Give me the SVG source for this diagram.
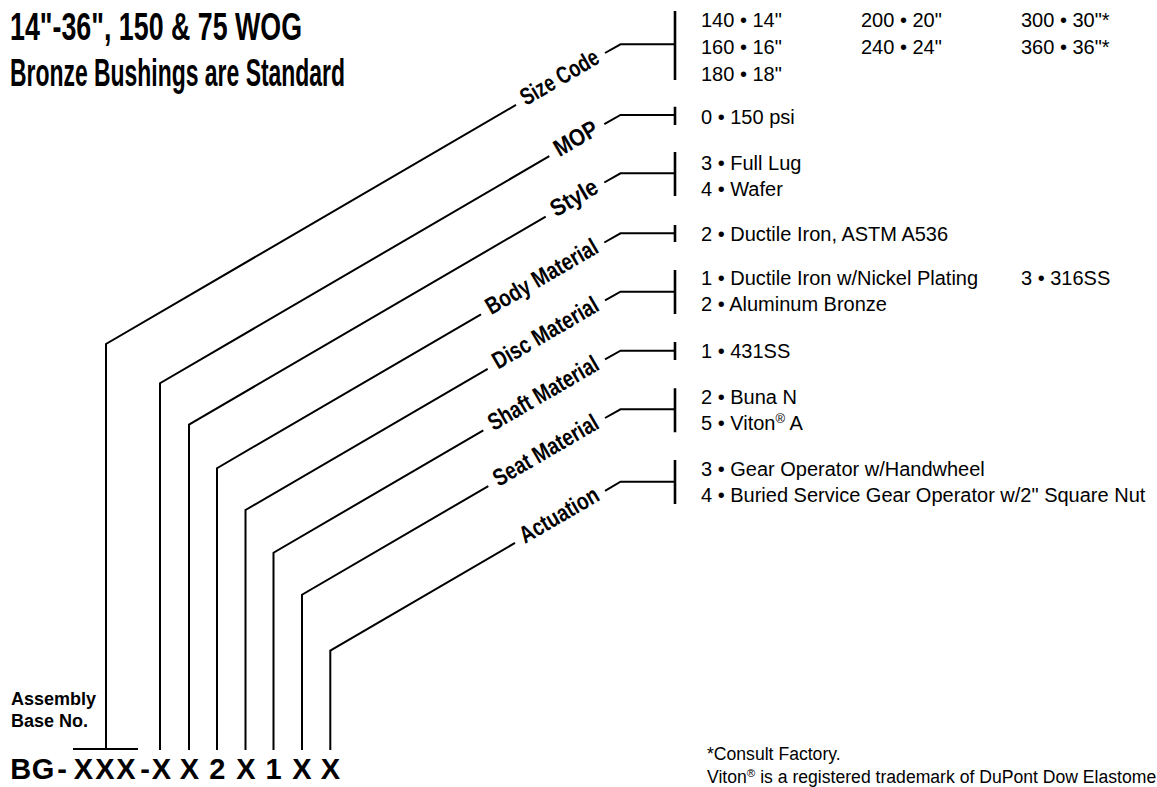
<svg xmlns="http://www.w3.org/2000/svg" width="1157" height="787" viewBox="0 0 1157 787">
<style>
.cond{font-family:"Liberation Sans",Arial,sans-serif;font-weight:bold;fill:#000}
.lbl{font-family:"Liberation Sans",Arial,sans-serif;font-weight:bold;font-size:24px;fill:#000;text-anchor:middle}
.opt{font-family:"Liberation Sans",Arial,sans-serif;font-size:20px;fill:#000}
.foot{font-family:"Liberation Sans",Arial,sans-serif;font-size:17.6px;fill:#000}
.bold{font-family:"Liberation Sans",Arial,sans-serif;font-weight:bold;fill:#000}
.ln{fill:none;stroke:#000;stroke-width:2;stroke-linejoin:miter}
.br{fill:none;stroke:#000;stroke-width:2.6}
</style>
<rect width="1157" height="787" fill="#fff"/>
<g id="title">
<text class="cond" x="10" y="40" font-size="38" textLength="292" lengthAdjust="spacingAndGlyphs">14"-36", 150 &amp; 75 WOG</text>
<text class="cond" x="10" y="86" font-size="38" textLength="335" lengthAdjust="spacingAndGlyphs">Bronze Bushings are Standard</text>
</g>
<g id="connectors">
<path class="ln" d="M106,749 L106,344 L516,104.9 M605,53 L620.5,44.3 L675,44.3"/>
<path class="ln" d="M160,750 L160,383.2 L549.3,156.2 M604.3,124.2 L620.5,115 L675,115"/>
<path class="ln" d="M189,750 L189,424.6 L545.7,216.6 M604.3,182.5 L620.5,173.3 L675,173.3"/>
<path class="ln" d="M217,750 L217,468.2 L481,314.3 M604.3,242.5 L620.5,233.3 L675,233.3"/>
<path class="ln" d="M245.5,750 L245.5,510 L487.7,368.8 M605,300.4 L620.5,291.7 L675,291.7"/>
<path class="ln" d="M273.5,750 L273.5,552.7 L483.3,430.4 M605,359.4 L620.5,350.7 L675,350.7"/>
<path class="ln" d="M302,750 L302,594.7 L488.3,486.1 M605,418 L620.5,409.3 L675,409.3"/>
<path class="ln" d="M330.3,750 L330.3,650.6 L515,542.9 M605,490.8 L620.5,481.7 L675,481.7"/>
<path class="ln" d="M73,749 L138,749"/>
<path class="br" d="M675,11 V80 M675,106.7 V125 M675,152 V196 M675,225 V242 M675,270 V314 M675,342 V360 M675,388.3 V432.3 M675,460 V504"/>
</g>
<g id="size-code">
<text class="lbl" transform="translate(560.5,79) rotate(-30.25)" y="6" textLength="87" lengthAdjust="spacingAndGlyphs">Size Code</text>
<text class="opt" x="701" y="26.5">140 • 14"</text>
<text class="opt" x="701" y="53.5">160 • 16"</text>
<text class="opt" x="701" y="80.5">180 • 18"</text>
<text class="opt" x="861" y="26.5">200 • 20"</text>
<text class="opt" x="861" y="53.5">240 • 24"</text>
<text class="opt" x="1021" y="26.5">300 • 30"*</text>
<text class="opt" x="1021" y="53.5">360 • 36"*</text>
</g>
<g id="mop">
<text class="lbl" transform="translate(576.8,140.2) rotate(-30.25)" y="6" textLength="47" lengthAdjust="spacingAndGlyphs">MOP</text>
<text class="opt" x="701" y="124">0 • 150 psi</text>
</g>
<g id="style">
<text class="lbl" transform="translate(575,199.5) rotate(-30.25)" y="6" textLength="51" lengthAdjust="spacingAndGlyphs">Style</text>
<text class="opt" x="701" y="170">3 • Full Lug</text>
<text class="opt" x="701" y="196">4 • Wafer</text>
</g>
<g id="body-material">
<text class="lbl" transform="translate(542.7,278.4) rotate(-30.25)" y="6" textLength="126" lengthAdjust="spacingAndGlyphs">Body Material</text>
<text class="opt" x="701" y="240.5">2 • Ductile Iron, ASTM A536</text>
</g>
<g id="disc-material">
<text class="lbl" transform="translate(546.3,334.7) rotate(-30.25)" y="6" textLength="119" lengthAdjust="spacingAndGlyphs">Disc Material</text>
<text class="opt" x="701" y="285">1 • Ductile Iron w/Nickel Plating</text>
<text class="opt" x="701" y="311">2 • Aluminum Bronze</text>
<text class="opt" x="1021" y="285">3 • 316SS</text>
</g>
<g id="shaft-material">
<text class="lbl" transform="translate(544.2,394.9) rotate(-30.25)" y="6" textLength="124" lengthAdjust="spacingAndGlyphs">Shaft Material</text>
<text class="opt" x="701" y="358">1 • 431SS</text>
</g>
<g id="seat-material">
<text class="lbl" transform="translate(546.7,452) rotate(-30.25)" y="6" textLength="118" lengthAdjust="spacingAndGlyphs">Seat Material</text>
<text class="opt" x="701" y="404">2 • Buna N</text>
<text class="opt" x="701" y="430">5 • Viton<tspan font-size="13" dy="-7">®</tspan><tspan dy="7"> A</tspan></text>
</g>
<g id="actuation">
<text class="lbl" transform="translate(560,516.7) rotate(-30.25)" y="6" textLength="88" lengthAdjust="spacingAndGlyphs">Actuation</text>
<text class="opt" x="701" y="476">3 • Gear Operator w/Handwheel</text>
<text class="opt" x="701" y="502">4 • Buried Service Gear Operator w/2" Square Nut</text>
</g>
<g id="base">
<text class="bold" x="11" y="705" font-size="18">Assembly</text>
<text class="bold" x="11" y="727.3" font-size="18">Base No.</text>
<text class="bold" font-size="29" text-anchor="middle" y="779.3" x="20.8 43 62 83.3 105 125.8 145 161.5 175 189.5 203 217.3 231 246 260 273.5 288 302 316 330.5">BG-XXX-X X 2 X 1 X X</text>
</g>
<g id="footnote">
<text class="foot" x="707" y="760">*Consult Factory.</text>
<text class="foot" x="707" y="783">Viton<tspan font-size="11.5" dy="-6">®</tspan><tspan dy="6"> is a registered trademark of DuPont Dow Elastome</tspan></text>
</g>
</svg>
